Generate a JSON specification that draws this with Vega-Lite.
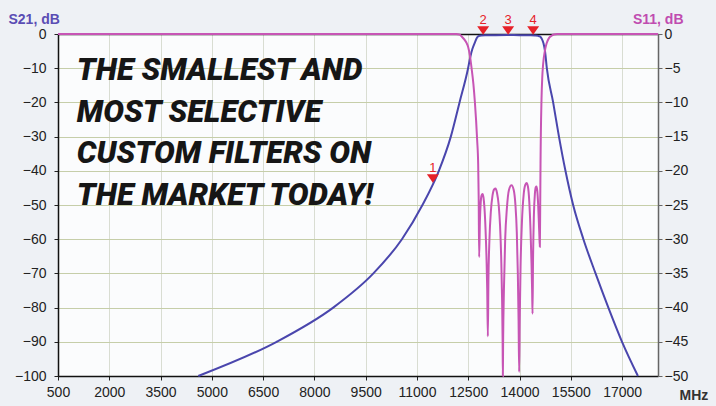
{
  "$schema": "https://vega.github.io/schema/vega-lite/v6.json",
  "width": 600,
  "height": 342,
  "autosize": {"type": "none"},
  "padding": {"left": 58, "top": 34, "right": 58, "bottom": 30},
  "background": "#eef1f5",
  "config": {
    "view": {"fill": "#fbfcfd", "stroke": null},
    "axis": {"labelFont": "Liberation Sans", "labelFontSize": 14, "labelColor": "#222", "tickColor": "#222", "domainColor": "#111", "domainWidth": 1.5, "titleFont": "Liberation Sans", "tickSize": 4}
  },
  "datasets": {
    "s21": [
      {"MHz": 4603, "dB": -100}, {"MHz": 6895, "dB": -90}, {"MHz": 8550, "dB": -80}, {"MHz": 9725, "dB": -70},
      {"MHz": 10560, "dB": -60}, {"MHz": 11160, "dB": -50}, {"MHz": 11640, "dB": -40}, {"MHz": 11990, "dB": -30},
      {"MHz": 12245, "dB": -20}, {"MHz": 12495, "dB": -10}, {"MHz": 12560, "dB": -6.7}, {"MHz": 12620, "dB": -4.4},
      {"MHz": 12693, "dB": -2.5}, {"MHz": 12750, "dB": -1.2}, {"MHz": 12800, "dB": -0.65}, {"MHz": 12880, "dB": -0.45},
      {"MHz": 13000, "dB": -0.38}, {"MHz": 13300, "dB": -0.33}, {"MHz": 13650, "dB": -0.32}, {"MHz": 14000, "dB": -0.33},
      {"MHz": 14300, "dB": -0.38}, {"MHz": 14450, "dB": -0.45}, {"MHz": 14540, "dB": -0.55}, {"MHz": 14594, "dB": -0.7},
      {"MHz": 14650, "dB": -1.4}, {"MHz": 14700, "dB": -2.7}, {"MHz": 14745, "dB": -5}, {"MHz": 14798, "dB": -10},
      {"MHz": 14983, "dB": -20}, {"MHz": 15153, "dB": -30}, {"MHz": 15343, "dB": -40}, {"MHz": 15568, "dB": -50},
      {"MHz": 15868, "dB": -60}, {"MHz": 16223, "dB": -70}, {"MHz": 16598, "dB": -80}, {"MHz": 16998, "dB": -90},
      {"MHz": 17463, "dB": -100}
    ],
    "s11": [
      {"MHz": 500, "dB": 0}, {"MHz": 12150, "dB": 0}, {"MHz": 12250, "dB": -0.1}, {"MHz": 12304, "dB": -0.35},
      {"MHz": 12400, "dB": -0.9}, {"MHz": 12450, "dB": -1.3}, {"MHz": 12497, "dB": -1.9}, {"MHz": 12550, "dB": -3.2},
      {"MHz": 12597, "dB": -5}, {"MHz": 12650, "dB": -7.3}, {"MHz": 12693, "dB": -9.9}, {"MHz": 12730, "dB": -12.7},
      {"MHz": 12760, "dB": -15.5}, {"MHz": 12790, "dB": -19}, {"MHz": 12805, "dB": -24}, {"MHz": 12819, "dB": -32.6},
      {"MHz": 12840, "dB": -27.5}, {"MHz": 12865, "dB": -24.6}, {"MHz": 12890, "dB": -23.6}, {"MHz": 12918, "dB": -23.4},
      {"MHz": 12945, "dB": -23.9}, {"MHz": 12975, "dB": -25.5}, {"MHz": 13005, "dB": -28.5}, {"MHz": 13035, "dB": -33},
      {"MHz": 13055, "dB": -37.5}, {"MHz": 13073, "dB": -44.2}, {"MHz": 13090, "dB": -36}, {"MHz": 13120, "dB": -30},
      {"MHz": 13160, "dB": -26}, {"MHz": 13210, "dB": -23.6}, {"MHz": 13260, "dB": -22.7}, {"MHz": 13298, "dB": -22.6},
      {"MHz": 13340, "dB": -23.2}, {"MHz": 13390, "dB": -25}, {"MHz": 13430, "dB": -28}, {"MHz": 13465, "dB": -33},
      {"MHz": 13490, "dB": -39}, {"MHz": 13505, "dB": -45}, {"MHz": 13512, "dB": -50}, {"MHz": 13520, "dB": -45},
      {"MHz": 13545, "dB": -37}, {"MHz": 13580, "dB": -30}, {"MHz": 13630, "dB": -25.5}, {"MHz": 13690, "dB": -22.8},
      {"MHz": 13766, "dB": -22.1}, {"MHz": 13830, "dB": -22.8}, {"MHz": 13880, "dB": -25}, {"MHz": 13920, "dB": -29},
      {"MHz": 13950, "dB": -35}, {"MHz": 13972, "dB": -42}, {"MHz": 13989, "dB": -49.4}, {"MHz": 14005, "dB": -42},
      {"MHz": 14030, "dB": -34}, {"MHz": 14070, "dB": -27.5}, {"MHz": 14120, "dB": -23.5}, {"MHz": 14165, "dB": -22.1},
      {"MHz": 14205, "dB": -21.8}, {"MHz": 14245, "dB": -22.3}, {"MHz": 14285, "dB": -24.5}, {"MHz": 14320, "dB": -28.5},
      {"MHz": 14350, "dB": -33.5}, {"MHz": 14368, "dB": -37.5}, {"MHz": 14380, "dB": -40.9}, {"MHz": 14395, "dB": -33},
      {"MHz": 14420, "dB": -26.5}, {"MHz": 14450, "dB": -23.3}, {"MHz": 14475, "dB": -22.4}, {"MHz": 14497, "dB": -22.3},
      {"MHz": 14520, "dB": -23}, {"MHz": 14545, "dB": -25}, {"MHz": 14565, "dB": -27.5}, {"MHz": 14580, "dB": -29.5},
      {"MHz": 14594, "dB": -31.1}, {"MHz": 14605, "dB": -25}, {"MHz": 14614, "dB": -18.9}, {"MHz": 14643, "dB": -9.5},
      {"MHz": 14665, "dB": -6.3}, {"MHz": 14690, "dB": -4.4}, {"MHz": 14740, "dB": -2.5}, {"MHz": 14790, "dB": -1.4},
      {"MHz": 14860, "dB": -0.6}, {"MHz": 14936, "dB": -0.25}, {"MHz": 15000, "dB": -0.08}, {"MHz": 15100, "dB": 0},
      {"MHz": 18050, "dB": 0}
    ],
    "markers": [
      {"m": "1", "MHz": 11465, "dB": -43.5},
      {"m": "2", "MHz": 12936, "dB": -0.2},
      {"m": "3", "MHz": 13667, "dB": -0.2},
      {"m": "4", "MHz": 14398, "dB": -0.2}
    ],
    "caption": [
      {"t": "THE SMALLEST AND\nMOST SELECTIVE\nCUSTOM FILTERS ON\nTHE MARKET TODAY!", "MHz": 1050, "dB": -13.5}
    ]
  },
  "layer": [
    {
      "data": {"name": "s21"},
      "mark": {"type": "line", "color": "#4a46ad", "strokeWidth": 2, "clip": false, "interpolate": "monotone"},
      "encoding": {
        "x": {"field": "MHz", "type": "quantitative", "scale": {"domain": [500, 18050], "nice": false, "zero": false},
          "axis": {"values": [500, 2000, 3500, 5000, 6500, 8000, 9500, 11000, 12500, 14000, 15500, 17000], "format": "d", "grid": true, "gridColor": "#d9ddd2", "labelPadding": 5, "labelFlush": false, "labelOverlap": false,
            "title": "MHz", "titleX": 621, "titleY": 23, "titleAlign": "left", "titleBaseline": "alphabetic", "titleFontSize": 14, "titleFontWeight": "bold", "titleColor": "#333"}},
        "y": {"field": "dB", "type": "quantitative", "scale": {"domain": [-100, 0], "nice": false, "zero": false},
          "axis": {"values": [0, -10, -20, -30, -40, -50, -60, -70, -80, -90, -100], "grid": true, "gridColor": "#c6cea9", "labelPadding": 8,
            "title": "S21, dB", "titleAngle": 0, "titleAlign": "left", "titleBaseline": "alphabetic", "titleX": -50, "titleY": -11, "titleColor": "#5a4db4", "titleFontSize": 14, "titleFontWeight": "bold"}}
      }
    },
    {
      "data": {"name": "s11"},
      "mark": {"type": "line", "color": "#c755b5", "strokeWidth": 2, "clip": false, "interpolate": "monotone"},
      "encoding": {
        "x": {"field": "MHz", "type": "quantitative",
          "axis": {"orient": "top", "labels": false, "ticks": false, "grid": false, "title": null, "domainColor": "#111"}},
        "y": {"field": "dB", "type": "quantitative", "scale": {"domain": [-50, 0], "nice": false, "zero": false},
          "axis": {"orient": "right", "values": [0, -5, -10, -15, -20, -25, -30, -35, -40, -45, -50], "grid": false, "labelPadding": 2, "domainColor": "#666", "tickColor": "#666",
            "title": "S11, dB", "titleAngle": 0, "titleAlign": "right", "titleBaseline": "alphabetic", "titleX": 25, "titleY": -11, "titleColor": "#c04cb0", "titleFontSize": 14, "titleFontWeight": "bold"}}
      }
    },
    {
      "data": {"name": "markers"},
      "mark": {"type": "point", "shape": "M-1,-1.4L1,-1.4L0,0Z", "filled": true, "color": "#e62128", "size": 144, "opacity": 1},
      "encoding": {
        "x": {"field": "MHz", "type": "quantitative", "axis": null},
        "y": {"field": "dB", "type": "quantitative", "scale": {"domain": [-100, 0], "nice": false, "zero": false}, "axis": null}
      }
    },
    {
      "data": {"name": "markers"},
      "mark": {"type": "text", "color": "#e62128", "font": "Liberation Sans", "fontSize": 13, "baseline": "alphabetic", "align": "center", "dy": -11},
      "encoding": {
        "x": {"field": "MHz", "type": "quantitative", "axis": null},
        "y": {"field": "dB", "type": "quantitative", "scale": {"domain": [-100, 0], "nice": false, "zero": false}, "axis": null},
        "text": {"field": "m"}
      }
    },
    {
      "data": {"name": "caption"},
      "mark": {"type": "text", "color": "#161616", "font": "Roboto", "fontSize": 31, "fontWeight": 900, "fontStyle": "italic", "align": "left", "baseline": "alphabetic", "lineBreak": "\n", "lineHeight": 41.6},
      "encoding": {
        "x": {"field": "MHz", "type": "quantitative", "axis": null},
        "y": {"field": "dB", "type": "quantitative", "scale": {"domain": [-100, 0], "nice": false, "zero": false}, "axis": null},
        "text": {"field": "t"}
      }
    }
  ],
  "resolve": {"scale": {"y": "independent"}, "axis": {"x": "independent"}}
}
